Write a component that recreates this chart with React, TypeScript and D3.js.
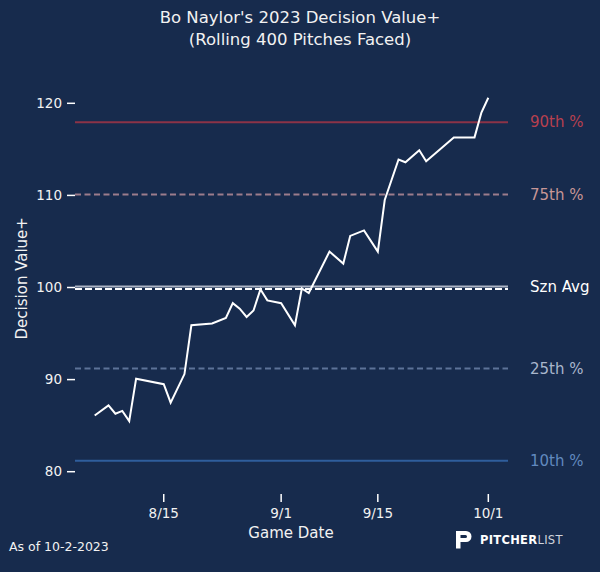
import * as d3 from 'd3';

const dates = [
  '2023-08-05', '2023-08-07', '2023-08-08', '2023-08-09', '2023-08-10', '2023-08-11',
  '2023-08-15', '2023-08-16', '2023-08-18', '2023-08-19', '2023-08-22', '2023-08-24',
  '2023-08-25', '2023-08-26', '2023-08-27', '2023-08-28', '2023-08-29', '2023-08-30',
  '2023-09-01', '2023-09-03', '2023-09-04', '2023-09-05', '2023-09-08', '2023-09-10',
  '2023-09-11', '2023-09-13', '2023-09-15', '2023-09-16', '2023-09-18', '2023-09-19',
  '2023-09-21', '2023-09-22', '2023-09-26', '2023-09-29', '2023-09-30', '2023-10-01',
];
const values = [
  86.1, 87.2, 86.3, 86.6, 85.5, 90.1,
  89.5, 87.5, 90.6, 95.9, 96.1, 96.7,
  98.3, 97.7, 96.8, 97.5, 99.8, 98.6,
  98.3, 95.9, 99.9, 99.4, 103.9, 102.6,
  105.6, 106.2, 103.9, 109.5, 113.9, 113.6,
  114.9, 113.7, 116.3, 116.3, 119.0, 120.6,
];

const refLabels = ['90th %', '75th %', 'Szn Avg', '25th %', '10th %'];
const refValues = [117.95, 110.1, 100.1, 91.2, 81.2];
const refLineColors = ['#8c3347', '#9c7c8c', '#aeb6c6', '#5d7398', '#2f5e9c'];
const refTextColors = ['#b8404f', '#c79696', '#ffffff', '#a9b6cc', '#6189bf'];
const refDashed = [false, true, false, true, false];
const medianValue = 99.85;

const xTicks = ['2023-08-15', '2023-09-01', '2023-09-15', '2023-10-01'];
const xTickLabels = ['8/15', '9/1', '9/15', '10/1'];
const yTicks = [80, 90, 100, 110, 120];

const BG = '#172b4d';
const FONT = '"DejaVu Sans", sans-serif';
const W = 600;
const H = 572;
const left = 75;
const right = 508;
const plotBottom = 494;

export default function App() {
  const parse = d3.utcParse('%Y-%m-%d');
  const xDates = dates.map((d) => parse(d) as Date);
  const [d0, d1] = d3.extent(xDates) as [Date, Date];
  const pad = (d1.getTime() - d0.getTime()) * 0.05;
  const x = d3
    .scaleUtc()
    .domain([new Date(d0.getTime() - pad), new Date(d1.getTime() + pad)])
    .range([left, right]);
  const y = d3.scaleLinear().domain([80, 120]).range([471.7, 103.3]);

  const line = d3
    .line<number>()
    .x((_, i) => x(xDates[i]))
    .y((v) => y(v));

  return (
    <svg
      width={W}
      height={H}
      style={{ position: 'absolute', left: 0, top: 0, display: 'block', background: BG }}
      fontFamily={FONT}
    >
      <rect width={W} height={H} fill={BG} />
      {/* Title */}
      <text x={300} y={23} textAnchor="middle" fill="#f2f2f2" fontSize={16.5}>
        Bo Naylor's 2023 Decision Value+
      </text>
      <text x={300} y={44.5} textAnchor="middle" fill="#f2f2f2" fontSize={16.5}>
        (Rolling 400 Pitches Faced)
      </text>

      {/* Reference lines */}
      {refValues.map((v, i) => (
        <g key={refLabels[i]}>
          <line
            x1={left}
            x2={right}
            y1={y(v)}
            y2={y(v)}
            stroke={refLineColors[i]}
            strokeWidth={2}
            strokeDasharray={refDashed[i] ? '6,3.5' : undefined}
          />
          <text
            x={530}
            y={y(v)}
            dy="0.35em"
            fill={refTextColors[i]}
            fontSize={15}
          >
            {refLabels[i]}
          </text>
        </g>
      ))}
      <line
        x1={left}
        x2={right}
        y1={y(medianValue)}
        y2={y(medianValue)}
        stroke="#ffffff"
        strokeWidth={2}
        strokeDasharray="7,3"
      />

      {/* Data line */}
      <path d={line(values) ?? ''} fill="none" stroke="#ffffff" strokeWidth={2} strokeLinejoin="miter" />

      {/* Y axis */}
      {yTicks.map((t) => (
        <g key={t}>
          <line x1={67} x2={75} y1={y(t)} y2={y(t)} stroke="#ffffff" strokeWidth={1.5} />
          <text x={62} y={y(t)} dy="0.35em" textAnchor="end" fill="#f2f2f2" fontSize={13.5}>
            {t}
          </text>
        </g>
      ))}
      <text
        transform={`translate(27,${y(101)}) rotate(-90)`}
        textAnchor="middle"
        fill="#f2f2f2"
        fontSize={15}
      >
        Decision Value+
      </text>

      {/* X axis */}
      {xTicks.map((t, i) => {
        const px = x(parse(t) as Date);
        return (
          <g key={t}>
            <line x1={px} x2={px} y1={plotBottom} y2={plotBottom + 8} stroke="#ffffff" strokeWidth={1.5} />
            <text x={px} y={513} dy="0.35em" textAnchor="middle" fill="#f2f2f2" fontSize={13.5}>
              {xTickLabels[i]}
            </text>
          </g>
        );
      })}
      <text x={291} y={533} dy="0.35em" textAnchor="middle" fill="#f2f2f2" fontSize={15}>
        Game Date
      </text>

      {/* Footer */}
      <text x={9} y={547} dy="0.35em" fill="#f2f2f2" fontSize={12.5}>
        As of 10-2-2023
      </text>

      {/* Logo */}
      <g fill="#ffffff">
        <path d="M456,531 h10 a5.5,5.5 0 0 1 0,11 h-5.5 v6.5 h-4.5 z M460.5,535 v3 h5 a1.5,1.5 0 0 0 0,-3 z" fillRule="evenodd" />
      </g>
      <text x={480} y={540} dy="0.35em" fontSize={11.5} letterSpacing={0.3}>
        <tspan fill="#ffffff" fontWeight="bold">PITCHER</tspan>
        <tspan fill="#d0d4dc">LIST</tspan>
      </text>
    </svg>
  );
}
